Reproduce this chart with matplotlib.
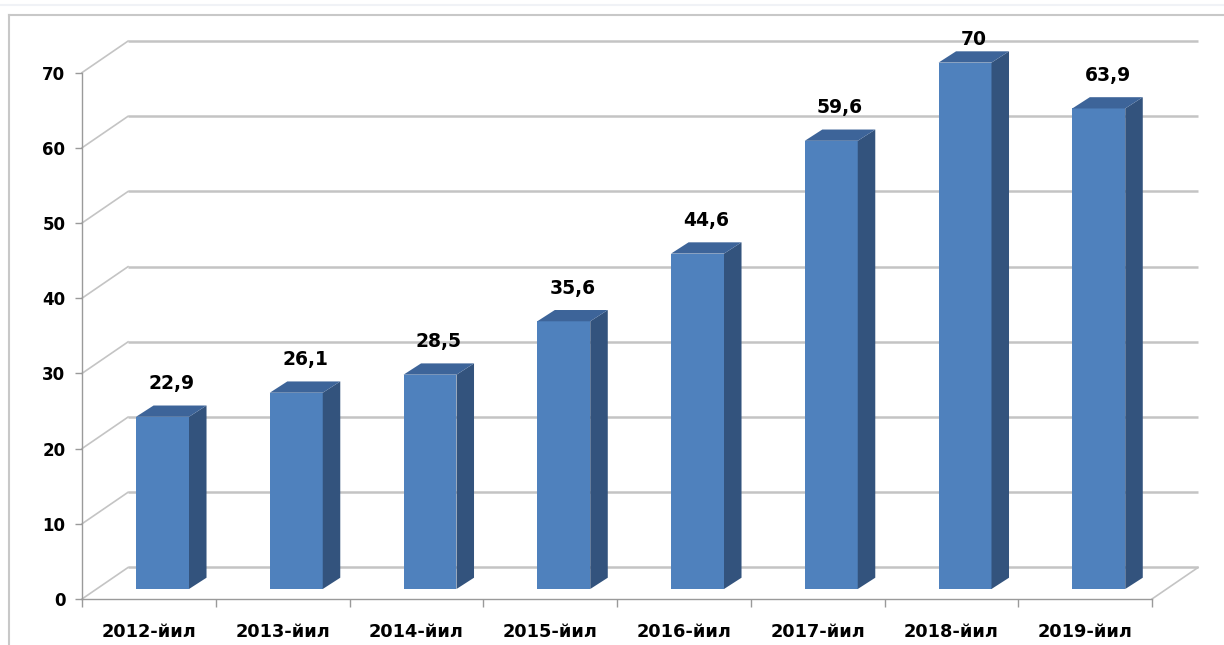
import matplotlib
matplotlib.use("agg")
import matplotlib.pyplot as plt
from matplotlib.lines import Line2D
import numpy as np

# data
years = ["2012-йил", "2013-йил", "2014-йил", "2015-йил",
         "2016-йил", "2017-йил", "2018-йил", "2019-йил"]
values = [22.9, 26.1, 28.5, 35.6, 44.6, 59.6, 70, 63.9]
yticks = [0, 10, 20, 30, 40, 50, 60, 70]

# pseudo-3d geometry (category / value units)
wall_dx, wall_dy = 0.344, 4.19      # depth of the back wall
front_dx, front_dy = 0.102, 1.33    # bar front plane
depth_dx, depth_dy = 0.131, 1.5     # bar thickness
bar_w = 0.396
label_pad = 1.6
label_max = 73.1

c_front = "#4F81BD"
c_side = "#33537D"
c_top = "#3D6499"
c_grid = "#C4C4C4"
c_axis = "#9A9A9A"

W, H = 1224, 645
fig = plt.figure(figsize=(W / 100, H / 100), dpi=100)
ax = fig.add_axes([82 / W, 46 / H, 1070 / W, 526.4 / H])
ax.set_xlim(0, len(years))
ax.set_ylim(0, 70)
ax.patch.set_alpha(0)

# back wall grid + left side wall diagonals
n = len(years)
for v in yticks:
    ax.plot([wall_dx, n + wall_dx], [v + wall_dy, v + wall_dy], color=c_grid,
            lw=1.8, clip_on=False, zorder=1, solid_capstyle="butt")
    ax.plot([0, wall_dx], [v, v + wall_dy], color=c_grid, lw=1.2,
            clip_on=False, zorder=1)
# right edge of the floor
ax.plot([n, n + wall_dx], [0, wall_dy], color=c_grid, lw=1.2, clip_on=False, zorder=1)

# bars: front face, side and top
x = np.arange(n) + 0.5 + front_dx
ax.bar(x, values, width=bar_w, bottom=front_dy, color=c_front, zorder=3,
       clip_on=False)
for xi, v in zip(x, values):
    l, r = xi - bar_w / 2, xi + bar_w / 2
    b, t = front_dy, v + front_dy
    ax.fill([r, r + depth_dx, r + depth_dx, r],
            [b, b + depth_dy, t + depth_dy, t], color=c_side, lw=0,
            zorder=3, clip_on=False)
    ax.fill([l, r, r + depth_dx, l + depth_dx],
            [t, t, t + depth_dy, t + depth_dy], color=c_top, lw=0,
            zorder=3, clip_on=False)
    ly = min(t + depth_dy + label_pad, label_max)
    ax.text(xi + depth_dx / 2, ly, f"{v:g}".replace(".", ","), ha="center",
            va="bottom", fontsize=13.5, fontweight="bold", color="black",
            zorder=5)

# axes
for s in ("top", "right"):
    ax.spines[s].set_visible(False)
for s in ("left", "bottom"):
    ax.spines[s].set_color(c_axis)
    ax.spines[s].set_linewidth(1.0)
    ax.spines[s].set_zorder(2)

ax.set_yticks(yticks)
ax.set_yticklabels([str(t) for t in yticks], fontsize=12, fontweight="bold")
ax.tick_params(axis="y", length=5, width=1, color=c_axis, pad=7)

ax.set_xticks(np.arange(n) + 0.5)
ax.set_xticklabels(years, fontsize=12.8, fontweight="bold")
ax.set_xticks(np.arange(n + 1), minor=True)
ax.tick_params(axis="x", which="major", length=0, pad=17)
ax.tick_params(axis="x", which="minor", length=6, width=1, color=c_axis)

# chart frame
fig.add_artist(Line2D([0, 1], [1 - 5 / H, 1 - 5 / H], color="#F0F2F6", lw=1.5))
fig.add_artist(Line2D([9 / W, 1], [1 - 15 / H, 1 - 15 / H], color="#C8C8C8", lw=1.5))
fig.add_artist(Line2D([9 / W, 9 / W], [0, 1 - 15 / H], color="#C8C8C8", lw=1.5))

fig.savefig("out.png", dpi=100)
